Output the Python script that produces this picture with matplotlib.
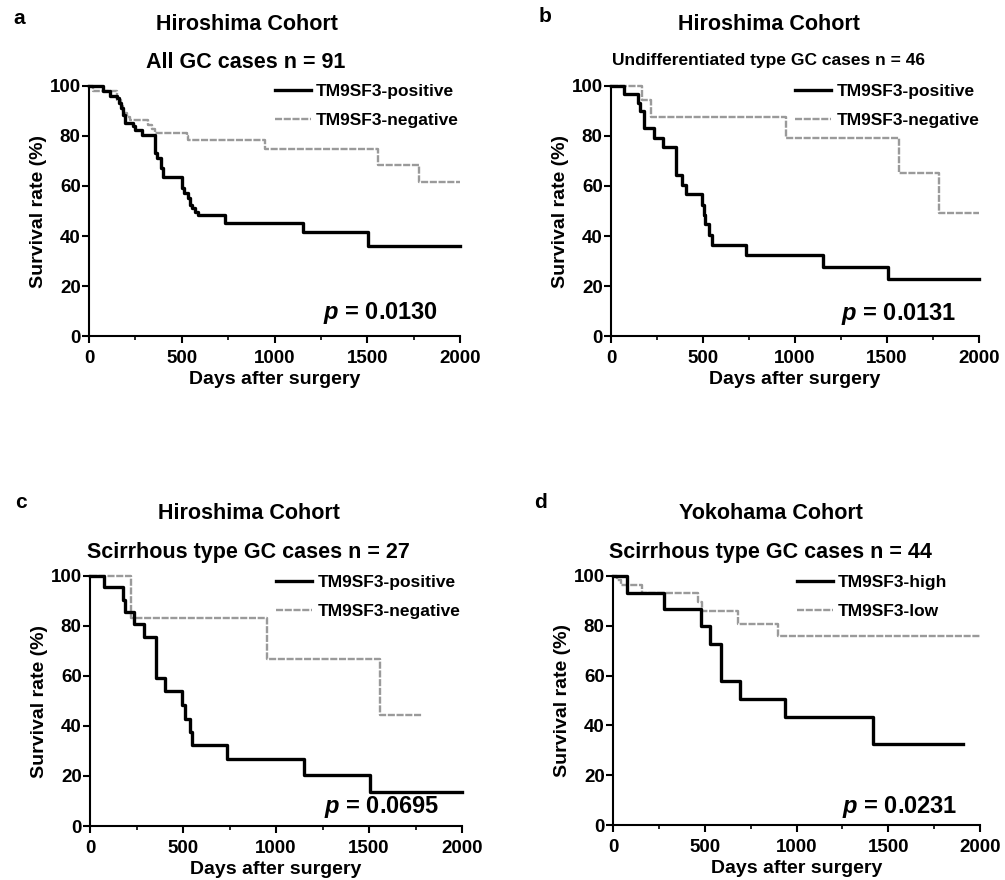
import matplotlib
matplotlib.use("Agg")
import matplotlib.pyplot as plt
from matplotlib.ticker import MultipleLocator

plt.rcParams['font.family'] = ['Liberation Sans', 'DejaVu Sans']
plt.rcParams['font.weight'] = 'bold'
plt.rcParams['mathtext.fontset'] = 'custom'
plt.rcParams['mathtext.it'] = 'Liberation Sans:bold:italic'
plt.rcParams['mathtext.rm'] = 'Liberation Sans:bold'

# ---- data (days, survival %) ----
# a: Hiroshima, all GC cases
a_pos_days = [0, 77, 113, 149, 164, 173, 185, 194, 239, 248, 284, 356, 365, 388, 401, 500, 512, 536, 545, 557, 571, 589, 735, 1152, 1506, 2000]
a_pos_surv = [100, 97.8, 96.0, 95.0, 93.2, 91.0, 88.5, 85.3, 84.0, 82.4, 80.4, 73.1, 71.0, 67.0, 63.7, 59.1, 57.0, 55.0, 52.4, 51.0, 49.7, 48.4, 45.3, 41.6, 36.0, 36.0]
a_neg_days = [0, 23, 150, 175, 185, 203, 221, 320, 338, 356, 527, 535, 949, 1560, 1781, 2000]
a_neg_surv = [100, 97.8, 94.5, 92.0, 89.0, 87.7, 86.4, 84.4, 82.8, 81.3, 80.0, 78.4, 74.7, 68.3, 61.7, 61.7]

# b: Hiroshima, undifferentiated type
b_pos_days = [0, 71, 145, 160, 178, 236, 284, 353, 385, 405, 496, 503, 510, 530, 548, 734, 1150, 1508, 2000]
b_pos_surv = [100, 96.8, 93.3, 90.0, 83.3, 79.3, 75.7, 64.2, 60.5, 56.6, 52.4, 48.4, 44.8, 40.5, 36.5, 32.3, 27.7, 22.9, 22.9]
b_neg_days = [0, 167, 219, 950, 1566, 1785, 2000]
b_neg_surv = [100, 94.4, 87.7, 79.0, 65.3, 49.0, 49.0]

# c: Hiroshima, scirrhous type
c_pos_days = [0, 75, 179, 188, 238, 292, 357, 405, 495, 513, 540, 550, 735, 1152, 1507, 2000]
c_pos_surv = [100, 95.5, 90.5, 85.7, 80.8, 75.8, 59.4, 54.0, 48.3, 43.0, 37.5, 32.3, 26.9, 20.3, 13.5, 13.5]
c_neg_days = [0, 222, 951, 1561, 1785]
c_neg_surv = [100, 83.3, 66.7, 44.4, 44.4]

# d: Yokohama, scirrhous type
d_pos_days = [0, 75, 278, 478, 526, 590, 690, 940, 1418, 1905]
d_pos_surv = [100, 93.3, 86.7, 79.9, 72.6, 58.0, 50.6, 43.4, 32.4, 32.4]
d_neg_days = [0, 20, 45, 156, 465, 485, 683, 900, 2000]
d_neg_surv = [100, 98.2, 96.5, 93.2, 89.7, 85.9, 80.8, 75.8, 75.8]

labels_pn = ['TM9SF3-positive', 'TM9SF3-negative']
labels_hl = ['TM9SF3-high', 'TM9SF3-low']
p_values = ['0.0130', '0.0131', '0.0695', '0.0231']
titles = ['Hiroshima Cohort', 'Hiroshima Cohort', 'Hiroshima Cohort', 'Yokohama Cohort']
subtitles = ['All GC cases n = 91', 'Undifferentiated type GC cases n = 46',
             'Scirrhous type GC cases n = 27', 'Scirrhous type GC cases n = 44']
letters = ['a', 'b', 'c', 'd']

W, H = 1005, 880
fig = plt.figure(figsize=(W / 100, H / 100), dpi=100)


def px_axes(left, top, right, bottom):
    return fig.add_axes([left / W, 1 - bottom / H, (right - left) / W, (bottom - top) / H])


def km(ax, pt, ps, nt, ns, labels, pval, leg_y, p_y):
    ax.step(pt, ps, where='post', color='black', lw=2.4, clip_on=False, label=labels[0], zorder=3)
    ax.step(nt, ns, where='post', color='#9a9a9a', lw=1.7, ls=(0, (3, 0.7)), clip_on=False,
            label=labels[1], zorder=2)
    ax.set_xlim(0, 2000)
    ax.set_ylim(0, 100)
    ax.spines['top'].set_visible(False)
    ax.spines['right'].set_visible(False)
    ax.spines['left'].set_linewidth(1.5)
    ax.spines['bottom'].set_linewidth(1.5)
    ax.xaxis.set_major_locator(MultipleLocator(500))
    ax.xaxis.set_minor_locator(MultipleLocator(250))
    ax.yaxis.set_major_locator(MultipleLocator(20))
    ax.tick_params(axis='both', which='major', length=5, width=1.5, labelsize=13.5)
    ax.tick_params(axis='x', which='minor', length=3, width=1.2)
    ax.tick_params(axis='y', pad=1)
    ax.tick_params(axis='x', pad=5)
    for t in ax.get_xticklabels() + ax.get_yticklabels():
        t.set_fontweight('bold')
    ax.set_xlabel('Days after surgery', fontsize=14, fontweight='bold', labelpad=3)
    ax.set_ylabel('Survival rate (%)', fontsize=14, fontweight='bold', labelpad=2)
    ax.legend(loc='upper left', bbox_to_anchor=(0.5, leg_y), frameon=False,
              handlelength=2.1, handletextpad=0.3, labelspacing=0.8, borderpad=0, borderaxespad=0,
              prop={'weight': 'bold', 'size': 12.5})
    ax.text(0.94, p_y, r'$p$ = ' + pval, transform=ax.transAxes, ha='right', va='center',
            fontsize=17, fontweight='bold')


ax_a = px_axes(89, 86, 460, 336)
km(ax_a, a_pos_days, a_pos_surv, a_neg_days, a_neg_surv, labels_pn, p_values[0], 1.01, 0.092)
ax_b = px_axes(611, 86, 979, 336)
km(ax_b, b_pos_days, b_pos_surv, b_neg_days, b_neg_surv, labels_pn, p_values[1], 1.01, 0.09)
ax_c = px_axes(90, 576, 462, 826)
km(ax_c, c_pos_days, c_pos_surv, c_neg_days, c_neg_surv, labels_pn, p_values[2], 1.003, 0.076)
ax_d = px_axes(613, 576, 980, 825)
km(ax_d, d_pos_days, d_pos_surv, d_neg_days, d_neg_surv, labels_hl, p_values[3], 1.003, 0.072)

# titles, subtitles and panel letters (pixel positions of the reference)
title_xy = [(247, 25), (769, 25), (249, 513), (771, 513)]
sub_xy = [(246, 63), (768, 60), (248, 552), (770, 552)]
sub_size = [15.5, 12.5, 15.5, 15.5]
letter_xy = [(19, 18), (545, 17), (21, 503), (540, 503)]
for i in range(4):
    fig.text(title_xy[i][0] / W, 1 - title_xy[i][1] / H, titles[i], ha='center', va='center',
             fontsize=15.5, fontweight='bold')
    fig.text(sub_xy[i][0] / W, 1 - sub_xy[i][1] / H, subtitles[i], ha='center', va='center',
             fontsize=sub_size[i], fontweight='bold')
    fig.text(letter_xy[i][0] / W, 1 - letter_xy[i][1] / H, letters[i], ha='center', va='center',
             fontsize=15, fontweight='bold')

fig.savefig('out.png', dpi=100)
